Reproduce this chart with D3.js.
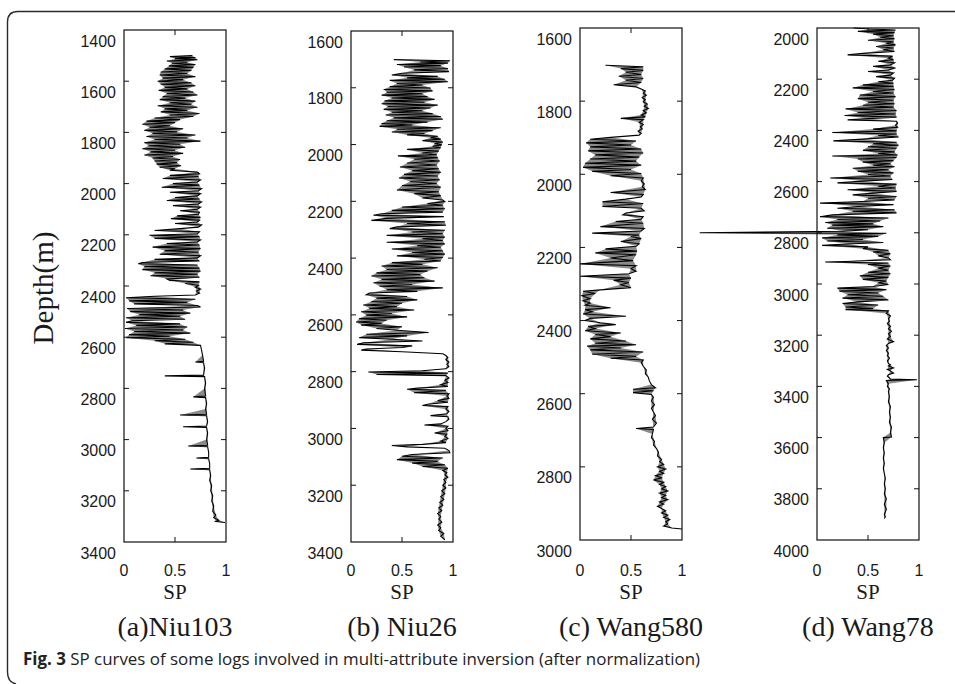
<!DOCTYPE html>
<html>
<head>
<meta charset="utf-8">
<script src="https://cdn.jsdelivr.net/npm/d3@7/dist/d3.min.js"></script>
<style>
html,body{margin:0;padding:0;background:#fff;}
svg{display:block;}
</style>
</head>
<body>
<svg id="chart" width="955" height="684"></svg>
<script>
// ---------------- DATA ----------------
const wellNames = ["(a)Niu103", "(b) Niu26", "(c) Wang580", "(d) Wang78"];
const depthDomains = [[1400, 3400], [1600, 3400], [1600, 3000], [2000, 4000]];
const depthTicks = [
  [1400,1600,1800,2000,2200,2400,2600,2800,3000,3200,3400],
  [1600,1800,2000,2200,2400,2600,2800,3000,3200,3400],
  [1600,1800,2000,2200,2400,2600,2800,3000],
  [2000,2200,2400,2600,2800,3000,3200,3400,3600,3800,4000]
];
const spTicks = [0, 0.5, 1];
const spTickLabels = ["0", "0.5", "1"];
const xLabel = "SP";
const yLabel = "Depth(m)";
const captionBold = "Fig. 3";
const captionText = " SP curves of some logs involved in multi-attribute inversion (after normalization)";

// [depth (m), normalized SP]
const niu103 = [[1500,0.67],[1504,0.45],[1508,0.70],[1512,0.50],[1516,0.72],[1521,0.42],[1526,0.62],[1530,0.47],[1535,0.70],[1540,0.44],[1546,0.68],[1552,0.40],[1558,0.66],[1564,0.36],[1570,0.62],[1576,0.35],[1582,0.70],[1588,0.38],[1594,0.58],[1600,0.33],[1606,0.66],[1612,0.36],[1618,0.70],[1624,0.40],[1630,0.62],[1636,0.34],[1642,0.68],[1648,0.42],[1654,0.72],[1660,0.38],[1666,0.60],[1672,0.35],[1678,0.70],[1684,0.45],[1690,0.66],[1696,0.33],[1702,0.72],[1708,0.40],[1714,0.62],[1720,0.36],[1726,0.74],[1732,0.45],[1738,0.68],[1744,0.30],[1750,0.55],[1756,0.22],[1762,0.50],[1768,0.18],[1774,0.45],[1780,0.25],[1786,0.58],[1792,0.20],[1798,0.52],[1804,0.28],[1810,0.70],[1816,0.22],[1822,0.62],[1828,0.30],[1834,0.75],[1840,0.20],[1846,0.55],[1852,0.24],[1858,0.60],[1864,0.18],[1870,0.50],[1876,0.26],[1882,0.58],[1888,0.20],[1894,0.48],[1900,0.28],[1906,0.55],[1912,0.30],[1918,0.52],[1924,0.32],[1930,0.56],[1936,0.35],[1942,0.50],[1948,0.45],[1955,0.72],[1962,0.74],[1968,0.45],[1972,0.73],[1980,0.38],[1986,0.75],[1994,0.72],[2000,0.48],[2006,0.74],[2014,0.37],[2020,0.76],[2028,0.73],[2034,0.45],[2040,0.75],[2048,0.72],[2054,0.50],[2060,0.74],[2066,0.42],[2072,0.76],[2080,0.73],[2086,0.48],[2092,0.75],[2100,0.72],[2106,0.55],[2112,0.74],[2120,0.73],[2126,0.52],[2132,0.75],[2137,0.46],[2143,0.74],[2150,0.72],[2156,0.50],[2162,0.76],[2170,0.73],[2176,0.55],[2183,0.30],[2188,0.74],[2196,0.72],[2202,0.25],[2207,0.74],[2214,0.30],[2220,0.75],[2228,0.72],[2234,0.42],[2240,0.74],[2248,0.28],[2254,0.75],[2262,0.40],[2268,0.73],[2276,0.35],[2282,0.75],[2290,0.72],[2296,0.30],[2302,0.74],[2308,0.18],[2313,0.14],[2318,0.72],[2324,0.20],[2330,0.74],[2336,0.18],[2342,0.75],[2348,0.30],[2354,0.72],[2360,0.26],[2366,0.74],[2372,0.42],[2378,0.45],[2384,0.74],[2390,0.60],[2397,0.73],[2405,0.70],[2412,0.75],[2420,0.71],[2428,0.74],[2435,0.70],[2440,0.30],[2446,0.02],[2452,0.70],[2458,0.05],[2464,0.62],[2470,0.10],[2476,0.72],[2482,0.75],[2488,0.03],[2494,0.58],[2500,0.06],[2506,0.65],[2512,0.15],[2518,0.55],[2524,0.02],[2530,0.60],[2536,0.08],[2542,0.02],[2548,0.55],[2554,0.12],[2560,0.62],[2566,0.01],[2572,0.58],[2578,0.10],[2584,0.65],[2590,0.05],[2596,0.45],[2602,0.02],[2608,0.60],[2614,0.30],[2620,0.68],[2626,0.40],[2632,0.75],[2650,0.76],[2670,0.77],[2694,0.78],[2697,0.70],[2700,0.78],[2720,0.79],[2748,0.78],[2751,0.40],[2754,0.79],[2780,0.80],[2800,0.79],[2830,0.80],[2833,0.68],[2836,0.80],[2860,0.81],[2880,0.80],[2901,0.81],[2904,0.55],[2907,0.81],[2930,0.82],[2947,0.81],[2950,0.58],[2953,0.81],[2975,0.82],[3000,0.81],[3022,0.82],[3025,0.63],[3028,0.82],[3050,0.83],[3069,0.83],[3072,0.71],[3075,0.83],[3095,0.84],[3112,0.84],[3115,0.65],[3118,0.84],[3140,0.85],[3160,0.84],[3180,0.86],[3200,0.85],[3220,0.87],[3240,0.86],[3260,0.88],[3280,0.87],[3295,0.90],[3305,0.88],[3315,0.93],[3320,0.90],[3324,0.99]];

const niu26 = [[1701,0.42],[1705,0.97],[1709,0.68],[1713,0.95],[1718,0.45],[1722,0.88],[1727,0.52],[1732,0.95],[1737,0.62],[1743,0.96],[1749,0.50],[1755,0.40],[1760,0.85],[1765,0.55],[1770,0.92],[1774,0.38],[1779,0.95],[1785,0.45],[1790,0.70],[1796,0.38],[1801,0.78],[1806,0.32],[1811,0.80],[1816,0.35],[1821,0.70],[1826,0.30],[1831,0.75],[1836,0.40],[1841,0.82],[1846,0.33],[1851,0.72],[1856,0.30],[1861,0.85],[1866,0.36],[1871,0.78],[1876,0.32],[1881,0.70],[1886,0.40],[1891,0.80],[1896,0.34],[1901,0.88],[1906,0.42],[1911,0.90],[1916,0.35],[1921,0.75],[1926,0.30],[1931,0.60],[1936,0.28],[1941,0.88],[1946,0.45],[1951,0.80],[1956,0.40],[1961,0.72],[1966,0.55],[1971,0.85],[1976,0.78],[1981,0.88],[1986,0.70],[1991,0.90],[1996,0.82],[2001,0.89],[2006,0.80],[2011,0.88],[2017,0.55],[2023,0.86],[2030,0.70],[2036,0.84],[2040,0.46],[2046,0.85],[2052,0.62],[2058,0.87],[2065,0.55],[2072,0.84],[2079,0.48],[2085,0.86],[2092,0.60],[2098,0.88],[2105,0.52],[2111,0.85],[2118,0.47],[2124,0.87],[2130,0.58],[2137,0.84],[2144,0.50],[2150,0.88],[2160,0.45],[2166,0.86],[2173,0.62],[2180,0.88],[2188,0.70],[2195,0.90],[2201,0.92],[2208,0.75],[2214,0.90],[2220,0.50],[2226,0.92],[2232,0.40],[2238,0.90],[2244,0.30],[2249,0.22],[2254,0.91],[2260,0.35],[2267,0.20],[2272,0.92],[2278,0.55],[2284,0.93],[2290,0.45],[2296,0.38],[2302,0.92],[2308,0.60],[2314,0.90],[2320,0.35],[2326,0.92],[2332,0.70],[2338,0.90],[2344,0.35],[2350,0.92],[2356,0.65],[2362,0.88],[2368,0.40],[2374,0.90],[2380,0.60],[2386,0.92],[2392,0.45],[2398,0.90],[2404,0.72],[2410,0.88],[2416,0.40],[2422,0.70],[2428,0.30],[2434,0.85],[2440,0.35],[2446,0.75],[2452,0.25],[2458,0.68],[2463,0.20],[2469,0.72],[2475,0.30],[2481,0.82],[2487,0.22],[2493,0.60],[2499,0.28],[2505,0.90],[2511,0.35],[2517,0.65],[2523,0.18],[2529,0.15],[2535,0.55],[2541,0.25],[2547,0.65],[2553,0.20],[2559,0.50],[2565,0.12],[2571,0.45],[2577,0.18],[2583,0.62],[2589,0.10],[2595,0.40],[2601,0.15],[2607,0.55],[2613,0.08],[2619,0.35],[2625,0.05],[2630,0.30],[2636,0.10],[2642,0.50],[2648,0.25],[2654,0.45],[2662,0.76],[2668,0.15],[2674,0.55],[2680,0.08],[2686,0.40],[2692,0.70],[2698,0.12],[2704,0.06],[2709,0.60],[2715,0.50],[2720,0.15],[2724,0.10],[2730,0.50],[2737,0.90],[2743,0.93],[2750,0.95],[2758,0.93],[2766,0.96],[2774,0.94],[2782,0.96],[2790,0.93],[2797,0.70],[2801,0.17],[2805,0.95],[2810,0.25],[2814,0.93],[2822,0.96],[2830,0.92],[2838,0.95],[2846,0.88],[2852,0.95],[2858,0.65],[2862,0.55],[2866,0.93],[2874,0.62],[2878,0.96],[2886,0.94],[2894,0.96],[2902,0.85],[2908,0.95],[2915,0.75],[2919,0.70],[2923,0.95],[2932,0.93],[2940,0.96],[2948,0.94],[2955,0.78],[2959,0.95],[2968,0.96],[2976,0.93],[2984,0.88],[2988,0.72],[2992,0.95],[3000,0.93],[3008,0.95],[3016,0.82],[3020,0.94],[3028,0.92],[3036,0.95],[3044,0.88],[3050,0.93],[3056,0.70],[3060,0.40],[3065,0.55],[3070,0.92],[3078,0.96],[3086,0.97],[3092,0.60],[3098,0.50],[3104,0.90],[3110,0.45],[3116,0.85],[3122,0.60],[3128,0.92],[3134,0.70],[3140,0.95],[3148,0.90],[3156,0.94],[3164,0.92],[3172,0.95],[3180,0.91],[3190,0.93],[3200,0.90],[3210,0.93],[3220,0.89],[3230,0.92],[3240,0.88],[3250,0.91],[3260,0.87],[3270,0.90],[3280,0.86],[3290,0.89],[3300,0.85],[3310,0.88],[3320,0.86],[3330,0.89],[3340,0.85],[3350,0.88],[3360,0.86],[3370,0.91],[3380,0.88],[3392,0.92]];

const wang580 = [[1702,0.25],[1706,0.62],[1711,0.40],[1716,0.62],[1721,0.45],[1727,0.60],[1732,0.38],[1738,0.62],[1743,0.45],[1749,0.60],[1755,0.33],[1761,0.55],[1767,0.60],[1772,0.64],[1778,0.62],[1784,0.65],[1790,0.61],[1796,0.64],[1802,0.62],[1808,0.66],[1814,0.63],[1820,0.67],[1826,0.62],[1832,0.65],[1838,0.60],[1843,0.64],[1847,0.40],[1851,0.62],[1858,0.58],[1864,0.62],[1870,0.59],[1876,0.61],[1882,0.57],[1888,0.60],[1893,0.58],[1899,0.30],[1904,0.10],[1909,0.55],[1914,0.06],[1920,0.50],[1925,0.10],[1931,0.60],[1936,0.08],[1942,0.62],[1947,0.15],[1953,0.58],[1958,0.10],[1964,0.55],[1970,0.05],[1975,0.60],[1981,0.03],[1987,0.50],[1992,0.12],[1998,0.60],[2004,0.30],[2010,0.62],[2018,0.60],[2026,0.63],[2034,0.61],[2042,0.64],[2050,0.30],[2055,0.62],[2062,0.60],[2068,0.45],[2075,0.22],[2080,0.62],[2088,0.22],[2093,0.60],[2100,0.63],[2106,0.45],[2111,0.42],[2116,0.62],[2123,0.60],[2129,0.35],[2134,0.62],[2143,0.20],[2148,0.63],[2155,0.60],[2161,0.12],[2166,0.58],[2170,0.50],[2176,0.60],[2184,0.40],[2190,0.58],[2197,0.55],[2204,0.25],[2210,0.56],[2215,0.15],[2220,0.55],[2229,0.30],[2236,0.52],[2245,0.00],[2250,0.55],[2258,0.50],[2265,0.55],[2272,0.48],[2279,0.00],[2284,0.50],[2290,0.33],[2296,0.48],[2302,0.40],[2310,0.50],[2316,0.20],[2320,0.03],[2326,0.15],[2332,0.02],[2340,0.10],[2346,0.03],[2352,0.10],[2358,0.05],[2365,0.30],[2370,0.05],[2376,0.12],[2382,0.03],[2388,0.45],[2394,0.10],[2400,0.05],[2406,0.20],[2411,0.35],[2416,0.08],[2422,0.15],[2428,0.05],[2434,0.40],[2438,0.15],[2444,0.30],[2450,0.10],[2456,0.45],[2462,0.15],[2466,0.55],[2470,0.07],[2475,0.40],[2480,0.10],[2486,0.62],[2492,0.12],[2498,0.55],[2503,0.30],[2508,0.62],[2515,0.60],[2525,0.62],[2535,0.65],[2545,0.64],[2555,0.67],[2565,0.68],[2575,0.70],[2584,0.74],[2588,0.52],[2592,0.72],[2597,0.52],[2602,0.70],[2610,0.72],[2620,0.70],[2630,0.73],[2640,0.70],[2650,0.72],[2660,0.74],[2670,0.71],[2680,0.75],[2691,0.72],[2695,0.55],[2698,0.72],[2710,0.71],[2720,0.70],[2730,0.73],[2740,0.72],[2750,0.75],[2760,0.77],[2770,0.76],[2780,0.80],[2786,0.78],[2793,0.82],[2800,0.76],[2806,0.84],[2812,0.78],[2818,0.82],[2824,0.74],[2830,0.80],[2836,0.72],[2842,0.82],[2848,0.78],[2854,0.84],[2860,0.80],[2866,0.86],[2872,0.78],[2878,0.84],[2884,0.80],[2890,0.86],[2896,0.78],[2902,0.82],[2908,0.76],[2914,0.80],[2920,0.84],[2926,0.80],[2932,0.86],[2938,0.82],[2944,0.88],[2950,0.84],[2956,0.86],[2962,0.82],[2967,0.90],[2970,1.0]];

const wang78 = [[2000,0.36],[2004,0.52],[2008,0.77],[2013,0.40],[2018,0.76],[2024,0.55],[2030,0.75],[2036,0.62],[2042,0.76],[2048,0.50],[2054,0.75],[2060,0.68],[2066,0.77],[2072,0.58],[2078,0.75],[2085,0.65],[2092,0.76],[2099,0.45],[2105,0.30],[2110,0.74],[2118,0.70],[2124,0.75],[2130,0.60],[2136,0.76],[2144,0.72],[2150,0.55],[2156,0.77],[2164,0.70],[2170,0.50],[2176,0.75],[2184,0.72],[2190,0.58],[2196,0.76],[2204,0.74],[2210,0.60],[2216,0.75],[2222,0.45],[2228,0.75],[2234,0.35],[2240,0.76],[2248,0.55],[2254,0.75],[2262,0.42],[2268,0.77],[2276,0.40],[2282,0.75],[2290,0.50],[2296,0.76],[2302,0.45],[2309,0.75],[2316,0.28],[2322,0.78],[2330,0.40],[2336,0.77],[2342,0.27],[2348,0.78],[2354,0.50],[2359,0.30],[2364,0.78],[2372,0.79],[2380,0.77],[2388,0.79],[2395,0.55],[2402,0.78],[2408,0.15],[2414,0.78],[2420,0.60],[2426,0.80],[2434,0.45],[2441,0.16],[2446,0.78],[2452,0.55],[2458,0.80],[2464,0.50],[2470,0.78],[2478,0.45],[2484,0.76],[2490,0.60],[2496,0.79],[2500,0.15],[2506,0.78],[2512,0.40],[2518,0.75],[2524,0.45],[2530,0.72],[2536,0.55],[2542,0.76],[2548,0.35],[2554,0.70],[2560,0.40],[2566,0.75],[2572,0.50],[2578,0.72],[2586,0.13],[2592,0.74],[2598,0.45],[2605,0.20],[2610,0.78],[2618,0.60],[2625,0.77],[2632,0.30],[2638,0.78],[2645,0.55],[2652,0.35],[2658,0.78],[2665,0.50],[2672,0.76],[2678,0.45],[2684,0.03],[2690,0.75],[2697,0.40],[2704,0.20],[2710,0.76],[2716,0.35],[2722,0.78],[2730,0.15],[2737,0.03],[2742,0.70],[2748,0.20],[2754,0.62],[2760,0.08],[2765,0.55],[2770,0.15],[2776,0.65],[2782,0.10],[2788,0.50],[2794,0.25],[2800,-1.15],[2802,0.68],[2808,0.20],[2814,0.60],[2820,0.05],[2826,0.45],[2832,0.10],[2838,0.65],[2844,0.30],[2849,0.05],[2855,0.50],[2862,0.45],[2868,0.70],[2875,0.55],[2882,0.72],[2890,0.60],[2898,0.70],[2905,0.72],[2912,0.28],[2914,0.08],[2918,0.70],[2924,0.50],[2930,0.72],[2938,0.60],[2946,0.70],[2954,0.50],[2960,0.72],[2968,0.42],[2974,0.70],[2982,0.45],[2988,0.68],[2995,0.60],[3002,0.70],[3010,0.55],[3016,0.20],[3022,0.68],[3028,0.22],[3035,0.60],[3042,0.30],[3048,0.65],[3055,0.25],[3062,0.70],[3070,0.40],[3076,0.25],[3082,0.60],[3090,0.28],[3096,0.55],[3100,0.28],[3105,0.70],[3115,0.68],[3125,0.72],[3135,0.70],[3145,0.71],[3155,0.69],[3165,0.72],[3175,0.70],[3185,0.73],[3195,0.70],[3205,0.72],[3215,0.69],[3225,0.75],[3232,0.70],[3240,0.68],[3250,0.70],[3260,0.68],[3270,0.70],[3280,0.69],[3290,0.71],[3300,0.69],[3310,0.70],[3315,0.72],[3320,0.70],[3328,0.75],[3334,0.69],[3340,0.72],[3348,0.75],[3354,0.70],[3360,0.69],[3371,0.72],[3374,0.98],[3377,0.68],[3390,0.70],[3400,0.69],[3410,0.71],[3420,0.70],[3440,0.71],[3460,0.70],[3480,0.72],[3500,0.71],[3520,0.72],[3540,0.71],[3560,0.73],[3580,0.72],[3598,0.73],[3600,0.65],[3620,0.66],[3640,0.65],[3660,0.66],[3680,0.65],[3700,0.66],[3720,0.65],[3740,0.66],[3760,0.67],[3780,0.66],[3800,0.67],[3820,0.66],[3840,0.68],[3860,0.66],[3880,0.68],[3900,0.66],[3910,0.67],[3916,0.66]];

const logs = [niu103, niu26, wang580, wang78];

// ---------------- LAYOUT ----------------
const boxLeft = [124, 351, 580, 817];
const boxWidth = 102;
const boxTop = [30, 31, 28, 28];
const boxBottom = [542, 542, 540, 540];

const svg = d3.select("#chart");

// frame
svg.append("path")
  .attr("d", "M 960 11.5 L 18 11.5 Q 7.5 11.5 7.5 22 L 7.5 672 Q 7.5 682 16 684")
  .attr("fill", "none").attr("stroke", "#2a2a2a").attr("stroke-width", 1.4);

logs.forEach((data, i) => {
  const x = d3.scaleLinear().domain([0, 1]).range([boxLeft[i], boxLeft[i] + boxWidth]);
  const y = d3.scaleLinear().domain(depthDomains[i]).range([boxTop[i], boxBottom[i]]);
  const g = svg.append("g");

  // gray wedges inside each excursion (local extremum with its two neighbours)
  const tri = d3.range(1, data.length - 1)
    .filter(k => {
      const a = data[k - 1][1], b = data[k][1], c = data[k + 1][1];
      return (b < a && b < c) || (b > a && b > c);
    })
    .map(k => [data[k - 1], data[k], data[k + 1]]);
  g.append("g").selectAll("path").data(tri).join("path")
    .attr("d", t => "M" + t.map(p => x(p[1]) + "," + y(p[0])).join("L") + "Z")
    .attr("fill", "#8a8a8a")
    .attr("stroke", "none");

  // curve
  const line = d3.line().x(d => x(d[1])).y(d => y(d[0]));
  g.append("path").datum(data)
    .attr("d", line)
    .attr("fill", "none")
    .attr("stroke", "#000")
    .attr("stroke-width", 1.1)
    .attr("stroke-linejoin", "miter");

  // box
  g.append("rect")
    .attr("x", boxLeft[i]).attr("y", boxTop[i])
    .attr("width", boxWidth).attr("height", boxBottom[i] - boxTop[i])
    .attr("fill", "none").attr("stroke", "#111").attr("stroke-width", 1.2);

  // y ticks (inside, both sides)
  depthTicks[i].forEach(t => {
    const yy = y(t);
    if (t !== depthDomains[i][0] && t !== depthDomains[i][1]) {
      g.append("line").attr("x1", x(0)).attr("x2", x(0) + 5).attr("y1", yy).attr("y2", yy)
        .attr("stroke", "#111").attr("stroke-width", 1);
      g.append("line").attr("x1", x(1)).attr("x2", x(1) - 5).attr("y1", yy).attr("y2", yy)
        .attr("stroke", "#111").attr("stroke-width", 1);
    }
    g.append("text")
      .attr("x", x(0) - 8).attr("y", yy + 11)
      .attr("text-anchor", "end").attr("dominant-baseline", "central")
      .attr("font-family", "'Liberation Sans', Arial, sans-serif")
      .attr("font-size", 16).attr("fill", "#1a1a1a")
      .text(t);
  });

  // x ticks
  spTicks.forEach((t, k) => {
    const xx = x(t);
    if (t > 0 && t < 1) {
      g.append("line").attr("x1", xx).attr("x2", xx).attr("y1", boxTop[i]).attr("y2", boxTop[i] + 5)
        .attr("stroke", "#111").attr("stroke-width", 1);
      g.append("line").attr("x1", xx).attr("x2", xx).attr("y1", boxBottom[i]).attr("y2", boxBottom[i] - 5)
        .attr("stroke", "#111").attr("stroke-width", 1);
    }
    g.append("text")
      .attr("x", xx).attr("y", 570)
      .attr("text-anchor", "middle").attr("dominant-baseline", "central")
      .attr("font-family", "'Liberation Sans', Arial, sans-serif")
      .attr("font-size", 16).attr("fill", "#1a1a1a")
      .text(spTickLabels[k]);
  });

  // x label
  g.append("text")
    .attr("x", x(0.5)).attr("y", 592)
    .attr("text-anchor", "middle").attr("dominant-baseline", "central")
    .attr("font-family", "'Liberation Serif', 'Times New Roman', serif")
    .attr("font-size", 21).attr("fill", "#1a1a1a")
    .text(xLabel);

  // subtitle
  g.append("text")
    .attr("x", x(0.5)).attr("y", 626)
    .attr("text-anchor", "middle").attr("dominant-baseline", "central")
    .attr("font-family", "'Liberation Serif', 'Times New Roman', serif")
    .attr("font-size", 28).attr("fill", "#1a1a1a")
    .text(wellNames[i]);
});

// y label
svg.append("text")
  .attr("transform", "translate(43,288) rotate(-90)")
  .attr("text-anchor", "middle").attr("dominant-baseline", "central")
  .attr("font-family", "'Liberation Serif', 'Times New Roman', serif")
  .attr("font-size", 29).attr("fill", "#1a1a1a")
  .text(yLabel);

// caption
const cap = svg.append("text")
  .attr("x", 23).attr("y", 665)
  .attr("font-family", "'Open Sans', 'Noto Sans', sans-serif")
  .attr("font-size", 17).attr("fill", "#222")
  .attr("textLength", 677).attr("lengthAdjust", "spacingAndGlyphs");
cap.append("tspan").attr("font-weight", "bold").text(captionBold);
cap.append("tspan").text(captionText);
</script>
</body>
</html>
